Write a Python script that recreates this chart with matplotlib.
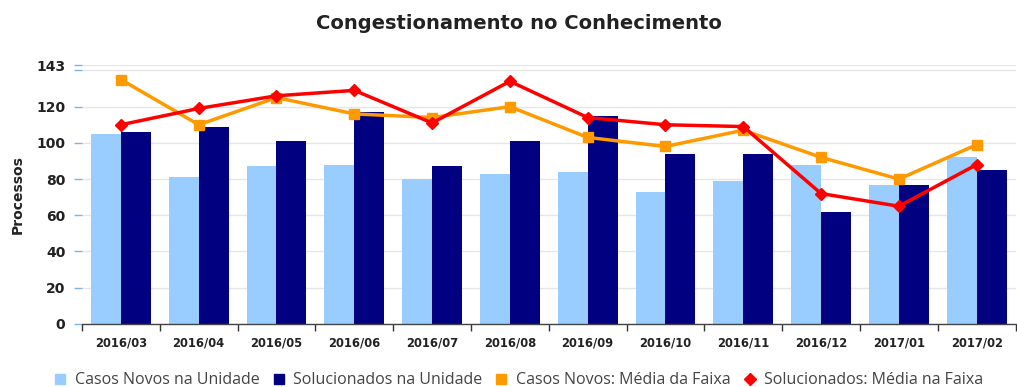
import matplotlib
matplotlib.use("Agg")
import matplotlib.pyplot as plt
from matplotlib.lines import Line2D
import numpy as np

# Monthly data
months = ["2016/03", "2016/04", "2016/05", "2016/06", "2016/07", "2016/08",
          "2016/09", "2016/10", "2016/11", "2016/12", "2017/01", "2017/02"]
casos_novos_unidade = [105, 81, 87, 88, 80, 83, 84, 73, 79, 88, 77, 92]
solucionados_unidade = [106, 109, 101, 117, 87, 101, 115, 94, 94, 62, 77, 85]
casos_novos_media = [135, 110, 125, 116, 114, 120, 103, 98, 107, 92, 80, 99]
solucionados_media = [110, 119, 126, 129, 111, 134, 114, 110, 109, 72, 65, 88]

y_ticks = [0, 20, 40, 60, 80, 100, 120, 143]
y_grid = [0, 20, 40, 60, 80, 100, 120, 140, 143]

c_light = "#99ccff"
c_navy = "#000080"
c_orange = "#ff9900"
c_red = "#ff0000"
text_col = "#222222"

plt.rcParams["font.family"] = ["DejaVu Sans"]

fig = plt.figure(figsize=(10.17, 3.87), dpi=100)
ax = fig.add_axes([0.0806, 0.163, 0.918, 0.669])

x = np.arange(len(months))
w = 0.385
ax.bar(x - w / 2, casos_novos_unidade, width=w, color=c_light, zorder=2)
ax.bar(x + w / 2, solucionados_unidade, width=w, color=c_navy, zorder=2)
ax.plot(x, casos_novos_media, color=c_orange, lw=2.5, marker="s", ms=7,
        zorder=3)
ax.plot(x, solucionados_media, color=c_red, lw=2.5, marker="D", ms=6,
        zorder=4)

ax.set_xlim(-0.5, len(months) - 0.5)
ax.set_ylim(0, 143)

for g in y_grid:
    ax.axhline(g, color="#e6e6e6", lw=1, zorder=0)

ax.set_yticks(y_grid)
ax.set_yticklabels([str(v) if v in y_ticks else "" for v in y_grid],
                   fontsize=10, fontweight="bold", color=text_col)
ax.tick_params(axis="y", length=6, width=1, color="#7cb5ec", pad=6)

ax.set_xticks(x)
ax.set_xticklabels(months, fontsize=8.3, fontweight="bold", color=text_col)
ax.tick_params(axis="x", length=0, pad=9)
ax.set_xticks(np.arange(-0.5, len(months)), minor=True)
ax.tick_params(axis="x", which="minor", length=5, width=1, color="#333333")

for side in ["top", "right", "left"]:
    ax.spines[side].set_visible(False)
ax.spines["bottom"].set_color("#444444")
ax.spines["bottom"].set_linewidth(1)

ax.set_ylabel("Processos", fontsize=10, fontweight="bold", color=text_col,
              labelpad=8)

fig.text(0.51, 0.94, "Congestionamento no Conhecimento", ha="center",
         va="center", fontsize=14, fontweight="bold", color=text_col)

handles = [
    Line2D([], [], ls="none", marker="s", ms=7, color=c_light),
    Line2D([], [], ls="none", marker="s", ms=7, color=c_navy),
    Line2D([], [], ls="none", marker="s", ms=7, color=c_orange),
    Line2D([], [], ls="none", marker="D", ms=6, color=c_red),
]
labels = ["Casos Novos na Unidade", "Solucionados na Unidade",
          "Casos Novos: Média da Faixa", "Solucionados: Média na Faixa"]
fig.legend(handles, labels, loc="center", bbox_to_anchor=(0.509, 0.017),
           ncol=4, frameon=False, handletextpad=0.4,
           columnspacing=0.7, handlelength=1.0,
           prop={"family": ["Open Sans", "DejaVu Sans"], "size": 11.5},
           labelcolor="#444444")

fig.savefig("out.png", dpi=100)
